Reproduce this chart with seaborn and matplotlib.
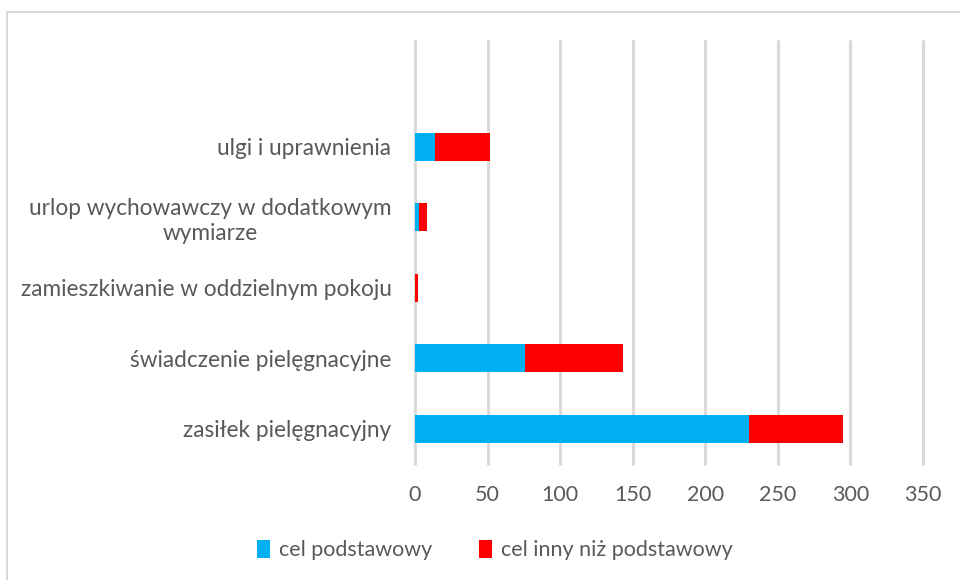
import matplotlib
matplotlib.use("Agg")
import matplotlib.pyplot as plt
import seaborn as sns
import pandas as pd
from matplotlib.patches import Patch
from matplotlib.lines import Line2D

categories = [
    "ulgi i uprawnienia",
    "urlop wychowawczy w dodatkowym\nwymiarze",
    "zamieszkiwanie w oddzielnym pokoju",
    "świadczenie pielęgnacyjne",
    "zasiłek pielęgnacyjny",
]
cel_podstawowy = [14, 3, 0, 76, 230]
cel_inny = [38, 5, 2, 67, 65]
series_names = ["cel podstawowy", "cel inny niż podstawowy"]
x_ticks = [0, 50, 100, 150, 200, 250, 300, 350]

BLUE = "#00B0F0"
RED = "#FF0000"
TEXT = "#595959"
GRID = "#D9D9D9"

sns.set_theme(style="white")
plt.rcParams['font.family'] = ['Lato', 'DejaVu Sans']

df = pd.DataFrame({
    "kategoria": categories,
    "podstawowy": cel_podstawowy,
    "inny": cel_inny,
})
df["razem"] = df["podstawowy"] + df["inny"]

fig = plt.figure(figsize=(9.6, 5.8), dpi=100)
ax = fig.add_axes([415 / 960, 1 - 464 / 580, (923 - 415) / 960, (464 - 41) / 580])

sns.barplot(data=df, y="kategoria", x="razem", color=RED, width=0.4,
            saturation=1, errorbar=None, linewidth=0, ax=ax, orient="h")
sns.barplot(data=df, y="kategoria", x="podstawowy", color=BLUE, width=0.4,
            saturation=1, errorbar=None, linewidth=0, ax=ax, orient="h")

ax.set_xlim(0, 350)
ax.set_ylim(4.5, -1.5)
ax.set_xticks(x_ticks)
ax.set_xticklabels([str(t) for t in x_ticks])
ax.set_xlabel("")
ax.set_ylabel("")
for s in ax.spines.values():
    s.set_visible(False)
ax.xaxis.grid(True, color=GRID, linewidth=2.2)
ax.yaxis.grid(False)
ax.set_axisbelow(True)
for gl in ax.get_xgridlines():
    gl.set_clip_on(False)

ax.tick_params(axis="x", length=0, pad=15, labelsize=15.5, labelcolor=TEXT)
ax.tick_params(axis="y", length=0, pad=17, labelsize=16.3, labelcolor=TEXT)
for lab in ax.get_yticklabels():
    lab.set_multialignment("center")
    lab.set_linespacing(1.25)

handles = [Patch(facecolor=BLUE, edgecolor="none", label=series_names[0]),
           Patch(facecolor=RED, edgecolor="none", label=series_names[1])]
leg = fig.legend(handles=handles, loc="center", bbox_to_anchor=(495 / 960, 1 - 550 / 580),
                 ncol=2, frameon=False, fontsize=15.5, handlelength=0.6, handleheight=0.9,
                 handletextpad=0.4, columnspacing=2.2)
for t in leg.get_texts():
    t.set_color(TEXT)

# chart frame (left and top edges visible)
fig.add_artist(Line2D([7 / 960, 7 / 960], [0, 1 - 12 / 580], transform=fig.transFigure,
                      color=GRID, linewidth=1.5))
fig.add_artist(Line2D([7 / 960, 1], [1 - 12 / 580, 1 - 12 / 580], transform=fig.transFigure,
                      color=GRID, linewidth=1.5))

fig.savefig("out.png", dpi=100)
